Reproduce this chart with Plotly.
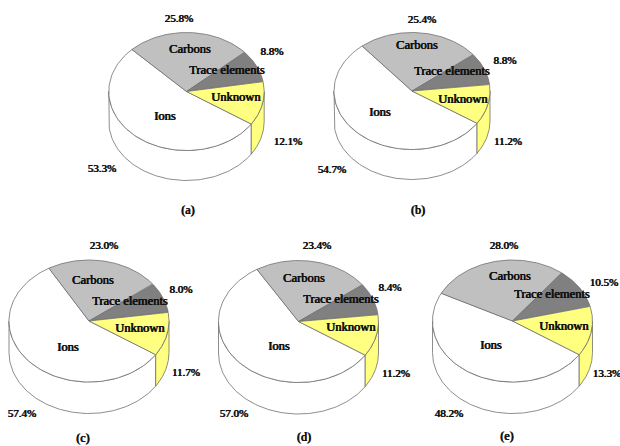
import numpy as np
import plotly.graph_objects as go

# Data: clockwise from the Ions edge
components = ["Ions", "Carbons", "Trace elements", "Unknown"]
panel_names = ["(a)", "(b)", "(c)", "(d)", "(e)"]
ions = [53.3, 54.7, 57.4, 57.0, 48.2]
carbons = [25.8, 25.4, 23.0, 23.4, 28.0]
trace = [8.8, 8.8, 8.0, 8.4, 10.5]
unknown = [12.1, 11.2, 11.7, 11.2, 13.3]

# Styles and layout (pixels)
colors = {"Ions": "#ffffff", "Carbons": "#c0c0c0", "Trace elements": "#808080", "Unknown": "#ffff80"}
geom = [(186.5, 91.5, 77.7, 59, 30), (412, 91, 78, 58.5, 30), (89, 321, 80, 61, 31.5),
        (298.5, 321.5, 80, 61, 31.5), (512.5, 321, 80, 61, 31.5)]
start_deg = -33.5
line = dict(color="#707070", width=0.8)
name_pos = [
    [(165, 117), (190, 50), (227, 71), (236, 98)],
    [(380, 113), (417, 46), (452, 72), (463, 100)],
    [(68, 348), (93, 281), (130, 302), (140, 329)],
    [(279, 347), (304, 279), (341, 300), (351, 328)],
    [(491, 346), (510, 277), (552, 295), (564, 327)],
]
pct_pos = [
    [(102, 169), (179, 19), (272, 52), (288, 142)],
    [(332, 170), (422, 20), (505, 61), (508, 142)],
    [(22, 414), (104, 246), (181, 290), (186, 373)],
    [(234, 414), (317, 246), (390, 288), (396, 374)],
    [(449, 414), (504, 246), (604, 283), (607, 374)],
]
title_pos = [(188, 211), (418, 211), (83, 439), (304, 438), (507, 437)]

fig = go.Figure()


def arc(g, a0, a1, drop=0.0):
    t = np.radians(np.linspace(a0, a1, 90))
    return g[0] + g[2] * np.cos(t), g[1] - g[3] * np.sin(t) + drop


def poly(x, y, color):
    fig.add_trace(go.Scatter(x=list(x) + [x[0]], y=list(y) + [y[0]], mode="lines", fill="toself",
                             fillcolor=color, line=line, hoverinfo="skip", showlegend=False))


def text(pts, labels, size):
    fig.add_trace(go.Scatter(x=[p[0] for p in pts], y=[p[1] for p in pts], mode="text", text=labels,
                             textposition="middle center", hoverinfo="skip", showlegend=False,
                             cliponaxis=False,
                             textfont=dict(family="Liberation Serif", size=size, color="#111111",
                                           shadow="0.4px 0 0.5px #111111, -0.3px 0 0.5px #111111")))


for i, g in enumerate(geom):
    vals = [ions[i], carbons[i], trace[i], unknown[i]]
    total = sum(vals)
    spans = [v / total * 360 for v in vals]
    # side walls: the parts of Ions and Unknown rims that face the viewer
    ion_end = max(start_deg - spans[0], -180)
    x1, y1 = arc(g, start_deg, ion_end)
    x2, y2 = arc(g, ion_end, start_deg, g[4])
    poly(np.r_[x1, x2], np.r_[y1, y2], colors["Ions"])
    unk_begin = min(start_deg + spans[3], 0)
    x1, y1 = arc(g, start_deg, unk_begin)
    x2, y2 = arc(g, unk_begin, start_deg, g[4])
    poly(np.r_[x1, x2], np.r_[y1, y2], colors["Unknown"])
    # top face
    a = start_deg
    for name, sp in zip(components, spans):
        xa, ya = arc(g, a, a - sp)
        poly(np.r_[g[0], xa], np.r_[g[1], ya], colors[name])
        a -= sp
    text(name_pos[i], components, 12.5)
    text(pct_pos[i], [f"{v:.1f}%" for v in vals], 11)
    text([title_pos[i]], [panel_names[i]], 12)

fig.update_layout(width=620, height=446, margin=dict(l=0, r=0, t=0, b=0), autosize=False,
                  paper_bgcolor="white", plot_bgcolor="white",
                  xaxis=dict(range=[0, 620], visible=False, fixedrange=True),
                  yaxis=dict(range=[446, 0], visible=False, fixedrange=True))
fig.write_html("out.html", config={"displayModeBar": False},
               post_script="document.body.style.margin='0';document.documentElement.style.overflow='hidden';")
